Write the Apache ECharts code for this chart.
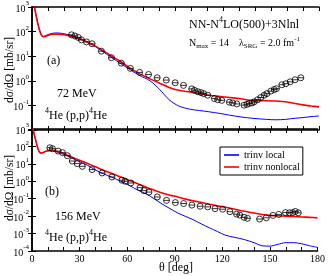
<!DOCTYPE html>
<html><head><meta charset="utf-8">
<script src="https://cdn.jsdelivr.net/npm/echarts@6/dist/echarts.min.js"></script>
<style>html,body{margin:0;padding:0;background:#fff}#c{width:328px;height:276px}</style>
</head><body><div id="c"></div>
<script>
// ---- 72 MeV panel (a) ----
const expTheta72 = [24.8,26.9,29,31,34.2,37.7,43.5,49.8,56,61.7,67.5,73.1,78.5,84.2,89.8,95,100.2,101.9,104,106,107.7,110.2,114.4,116.5,119,123.8,125.8,128.5,133,134.8,136.3,138,139.4,141.5,143.5,145.6,147.3,149.8,151.9,153.3,156.7,159.2,161.9,165,168.6];
const expVal72 = [74,66,58,46,38,32,16,8.7,5.2,3.2,2.2,1.8,1.33,1.07,0.83,0.65,0.47,0.41,0.36,0.33,0.30,0.26,0.19,0.17,0.16,0.135,0.126,0.115,0.102,0.11,0.12,0.126,0.14,0.17,0.21,0.26,0.30,0.38,0.44,0.48,0.69,0.76,0.91,1.1,1.33];
const thTh72 = [0,1,2,3,4,5,6,7,8,10,13,16,20,25,30,35,40,45,50,55,61,67,74,80,86,92,99,105,111,118,124,131,138,147,153,159,165,170,175,180];
const nonlocal72 = [4000,1500,700,330,170,100,70,62,63,70,78,79,74,63,50,37,25,16,10,6.4,3.4,2.0,1.2,0.8,0.54,0.41,0.35,0.3,0.26,0.23,0.21,0.185,0.16,0.155,0.15,0.14,0.12,0.105,0.095,0.087];
const local72 = [4000,1500,700,330,170,100,72,64,66,76,86,88,82,68,52,37,24,14.5,8.8,5.3,3.0,1.7,1.0,0.45,0.17,0.095,0.07,0.062,0.055,0.047,0.04,0.034,0.03,0.027,0.026,0.027,0.03,0.032,0.035,0.037];
// ---- 156 MeV panel (b) ----
const expTheta156 = [11.25,12.9,16.5,19.2,22.3,25.4,28.5,31.7,37.9,44.2,50.4,56.7,58.75,62.3,68.1,70.6,73.75,79,84.8,90.4,95.6,100.8,106,110.8,115.4,120.2,124.8,129,131,133.75,135.8,143.5,147.7,151.9,155.6,159.8,162.3,164.4,166,167.9];
const expVal156 = [84,74,54,44,29.5,14.5,10.3,7.2,4.7,3.0,1.77,1.15,1.0,0.8,0.43,0.29,0.24,0.126,0.08,0.06,0.053,0.043,0.037,0.034,0.027,0.025,0.018,0.013,0.0115,0.0085,0.0075,0.0068,0.008,0.011,0.0125,0.016,0.0155,0.016,0.0185,0.0155];
const thTh156 = [0,1,2,3,4,5,6,8,10,13,16,20,25,30,35,40,45,50,55,61,67,72,77,82,87,92,97,102,107,112,117,122,128,134,140,145,150,155,160,165,170,175,180];
const nonlocal156 = [3000,700,300,130,65,44,42,50,58,60,50,38,25,16,10.5,6.8,4.3,2.9,1.9,1.15,0.7,0.46,0.31,0.21,0.16,0.125,0.095,0.075,0.06,0.048,0.039,0.032,0.025,0.019,0.015,0.0125,0.011,0.0105,0.01,0.0095,0.009,0.0085,0.008];
const local156 = [3000,700,300,130,65,44,42,48,55,56,47,35,22,13.5,8.3,4.4,2.7,1.75,1.1,0.6,0.3,0.19,0.1,0.05,0.027,0.015,0.0095,0.006,0.0035,0.0021,0.0013,0.0008,0.0006,0.00045,0.0003,0.0002,0.00019,0.00024,0.0003,0.0003,0.00026,0.0002,0.00016];
const xTicks = [0,30,60,90,120,150,180];

const SERIF = '"Liberation Serif","DejaVu Serif",serif';
const zip = (a,b) => a.map((v,i)=>[v,b[i]]);
const AX = '#000';

function supLabel(hideVal){
  return function(v){
    const e = Math.round(Math.log10(v));
    if (hideVal !== undefined && Math.abs(v-hideVal) < hideVal*1e-3) return '';
    return '{b|10}{s|' + e + '}';
  };
}
const yRich = {
  b:{fontSize:10,fontFamily:SERIF,color:'#000',lineHeight:14,verticalAlign:'bottom'},
  s:{fontSize:7,fontFamily:SERIF,color:'#000',lineHeight:14,verticalAlign:'top'}
};

function xAxisDef(grid, pos, labels){
  return {type:'value',gridIndex:grid,position:pos,min:0,max:180,interval:30,
    axisLine:{show:true,onZero:false,lineStyle:{color:AX,width:1.5}},
    axisTick:{show:true,inside:true,length:4,lineStyle:{color:AX,width:1}},
    minorTick:{show:true,splitNumber:3,length:4,lineStyle:{color:AX,width:1}},
    axisLabel:{show:labels,fontSize:10,fontFamily:SERIF,color:'#000',margin:3},
    splitLine:{show:false}};
}
function yAxisDef(grid,pos,min,max,split,labels,hide){
  return {type:'log',logBase:10,gridIndex:grid,position:pos,min:min,max:max,splitNumber:split,
    axisLine:{show:true,lineStyle:{color:AX,width:1.5}},
    axisTick:{show:true,inside:true,length:4,lineStyle:{color:AX,width:1}},
    minorTick:{show:false},
    axisLabel:{show:labels,margin:3,formatter:supLabel(hide),rich:yRich},
    splitLine:{show:false}};
}

const circSym = 'path://M1,5A4,4 0 1,1 9,5A4,4 0 1,1 1,5ZM1,5L9,5';
function expSeries(x,y,xi,yi){
  return {type:'scatter',name:'exp',data:zip(x,y),xAxisIndex:xi,yAxisIndex:yi,
    symbol:circSym,symbolSize:6,symbolKeepAspect:true,
    itemStyle:{color:'rgba(255,255,255,0)',borderColor:'#000',borderWidth:1},z:5,silent:true};
}
function lineSeries(name,x,y,xi,yi,color,w){
  return {type:'line',name:name,data:zip(x,y),xAxisIndex:xi,yAxisIndex:yi,
    symbol:'none',smooth:0.3,clip:true,lineStyle:{color:color,width:w},itemStyle:{color:color},z:3,silent:true};
}

function txt(x,y,text,rich,extra){
  return Object.assign({type:'text',x:x,y:y,style:{text:text,rich:rich,fill:'#000',
    align:'left',verticalAlign:'middle',textAlign:'left',textVerticalAlign:'middle'}},extra||{});
}
const R12 = {
  a:{fontSize:12,fontFamily:SERIF,fill:'#000',lineHeight:15,verticalAlign:'bottom'},
  s:{fontSize:8,fontFamily:SERIF,fill:'#000',lineHeight:15,verticalAlign:'top'}
};
const R10 = {
  a:{fontSize:10,fontFamily:SERIF,fill:'#000',lineHeight:14,verticalAlign:'middle'},
  sub:{fontSize:7,fontFamily:SERIF,fill:'#000',lineHeight:9,verticalAlign:'bottom'},
  s:{fontSize:7,fontFamily:SERIF,fill:'#000',lineHeight:9,verticalAlign:'top'}
};

const chart = echarts.init(document.getElementById('c'),null,{renderer:'canvas'});
chart.setOption({
  animation:false,
  backgroundColor:'#fff',
  grid:[{left:32,right:9,top:6,height:124},{left:32,right:9,top:129,height:122}],
  xAxis:[xAxisDef(0,'bottom',false),xAxisDef(0,'top',false),xAxisDef(1,'bottom',true),xAxisDef(1,'top',false)],
  yAxis:[yAxisDef(0,'left',0.01,1000,5,true,0.01),yAxisDef(0,'right',0.01,1000,5,false),
         yAxisDef(1,'left',0.0001,1000,7,true),yAxisDef(1,'right',0.0001,1000,7,false)],
  legend:{data:[{name:'trinv local',icon:'rect'},{name:'trinv nonlocal',icon:'rect'}],
    orient:'vertical',left:220,top:147,
    itemWidth:15,itemHeight:1.6,itemGap:2,padding:[3,3,3,4],
    borderColor:'#000',borderWidth:1,borderRadius:0,
    textStyle:{fontSize:10,fontFamily:SERIF,color:'#000',lineHeight:9},
    selectedMode:false},
  series:[
    lineSeries('trinv local',thTh72,local72,0,0,'#0000ff',1),
    lineSeries('trinv nonlocal',thTh72,nonlocal72,0,0,'#ff0000',1.6),
    expSeries(expTheta72,expVal72,0,0),
    lineSeries('trinv local',thTh156,local156,2,2,'#0000ff',1),
    lineSeries('trinv nonlocal',thTh156,nonlocal156,2,2,'#ff0000',1.6),
    expSeries(expTheta156,expVal156,2,2)
  ],
  graphic:[
    txt(189,23,'{a|NN-N}{s|4}{a|LO(500)+3Nlnl}',R12),
    txt(189,43,'{a|N}{sub|max}{a| = 14    λ}{sub|SRG}{a| = 2.0 fm}{s|-1}',R10),
    txt(47,61,'{a|(a)}',{a:{fontSize:12,fontFamily:SERIF,fill:'#000'}}),
    txt(57,94,'{a|72 MeV}',{a:{fontSize:12,fontFamily:SERIF,fill:'#000'}}),
    txt(45,114,'{s|4}{a|He (p,p)}{s|4}{a|He}',R12),
    txt(45,192,'{a|(b)}',{a:{fontSize:12,fontFamily:SERIF,fill:'#000'}}),
    txt(55,217,'{a|156 MeV}',{a:{fontSize:12,fontFamily:SERIF,fill:'#000'}}),
    txt(45,236,'{s|4}{a|He (p,p)}{s|4}{a|He}',R12),
    {type:'text',x:10,y:70,rotation:Math.PI/2,style:{text:'dσ/dΩ [mb/sr]',font:'11.5px '+SERIF,fill:'#000',align:'center',verticalAlign:'middle',textAlign:'center',textVerticalAlign:'middle'}},
    {type:'text',x:10,y:188,rotation:Math.PI/2,style:{text:'dσ/dΩ [mb/sr]',font:'11.5px '+SERIF,fill:'#000',align:'center',verticalAlign:'middle',textAlign:'center',textVerticalAlign:'middle'}},
    {type:'text',x:176,y:268,style:{text:'θ [deg]',font:'12px '+SERIF,fill:'#000',align:'center',verticalAlign:'middle',textAlign:'center',textVerticalAlign:'middle'}}
  ]
});
</script></body></html>
